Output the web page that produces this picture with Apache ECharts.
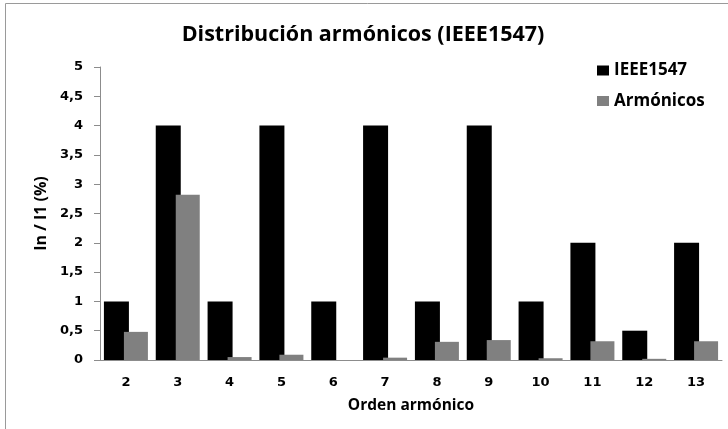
<!DOCTYPE html>
<html>
<head>
<meta charset="utf-8">
<script src="https://cdn.jsdelivr.net/npm/echarts@6/dist/echarts.min.js"></script>
<style>
  html, body { margin: 0; padding: 0; background: #fff; }
  #chart { width: 728px; height: 429px; }
</style>
</head>
<body>
<div id="chart"></div>
<script>
// Harmonic orders and per-order levels (% of fundamental)
const orders = ['2', '3', '4', '5', '6', '7', '8', '9', '10', '11', '12', '13'];
const ieeeLimits = [1, 4, 1, 4, 1, 4, 1, 4, 1, 2, 0.5, 2];
const measured = [0.48, 2.82, 0.05, 0.09, 0, 0.04, 0.31, 0.34, 0.03, 0.32, 0.02, 0.32];

const labelFont = 'DejaVu Sans';
const headFont = 'Open Sans';

const chart = echarts.init(document.getElementById('chart'), null, { renderer: 'canvas' });

chart.setOption({
  backgroundColor: '#ffffff',
  animation: false,
  title: {
    text: 'Distribución armónicos (IEEE1547)',
    left: 358,
    top: 19,
    textAlign: 'center',
    textStyle: { fontFamily: headFont, fontWeight: 'bold', fontSize: 21.5, color: '#000' }
  },
  legend: {
    orient: 'vertical',
    left: 597,
    top: 60.5,
    padding: 0,
    itemWidth: 12,
    itemHeight: 10,
    itemGap: 10.5,
    icon: 'rect',
    textStyle: { fontFamily: headFont, fontWeight: 'bold', fontSize: 17, lineHeight: 20, color: '#000' },
    data: ['IEEE1547', 'Armónicos']
  },
  graphic: [{
    type: 'rect',
    shape: { x: 5.5, y: 3.5, width: 800, height: 500 },
    style: { fill: 'none', stroke: '#9a9a9a', lineWidth: 1 },
    silent: true
  }],
  grid: { left: 100, right: 6, top: 67, bottom: 69, containLabel: false },
  xAxis: {
    type: 'category',
    data: orders,
    name: 'Orden armónico',
    nameLocation: 'middle',
    nameGap: 38,
    nameTextStyle: { fontFamily: headFont, fontWeight: 'bold', fontSize: 15.5, color: '#000' },
    axisLine: { lineStyle: { color: '#8c8c8c', width: 1 } },
    axisTick: { show: false },
    axisLabel: { fontFamily: labelFont, fontWeight: 'bold', fontSize: 13, color: '#000', margin: 16 }
  },
  yAxis: {
    type: 'value',
    min: 0,
    max: 5,
    interval: 0.5,
    name: 'In / I1 (%)',
    nameLocation: 'middle',
    nameGap: 48,
    nameRotate: 90,
    nameTextStyle: { fontFamily: headFont, fontWeight: 'bold', fontSize: 16, color: '#000' },
    axisLine: { show: true, lineStyle: { color: '#8c8c8c', width: 1 } },
    axisTick: { show: true, length: 6, lineStyle: { color: '#8c8c8c' } },
    splitLine: { show: false },
    axisLabel: {
      fontFamily: labelFont, fontWeight: 'bold', fontSize: 13, color: '#000', margin: 17,
      formatter: v => String(v).replace('.', ',')
    }
  },
  series: [
    {
      name: 'IEEE1547',
      type: 'bar',
      data: ieeeLimits,
      barWidth: 25,
      barGap: '-20%',
      itemStyle: { color: '#000000' }
    },
    {
      name: 'Armónicos',
      type: 'bar',
      data: measured,
      barWidth: 24,
      barGap: '-20%',
      itemStyle: { color: '#808080' }
    }
  ]
});
</script>
</body>
</html>
